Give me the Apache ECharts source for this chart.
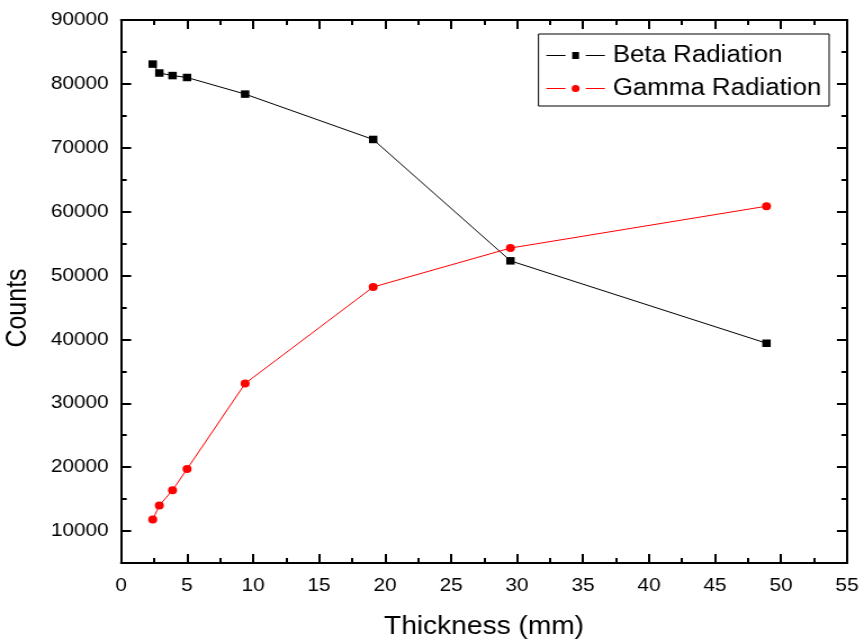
<!DOCTYPE html>
<html>
<head>
<meta charset="utf-8">
<script src="https://cdn.jsdelivr.net/npm/echarts@6/dist/echarts.min.js"></script>
<style>
  html, body { margin: 0; padding: 0; background: #fff; overflow: hidden; }
  #chart { width: 767px; height: 641px; transform: scaleX(1.125); transform-origin: 0 0; }
</style>
</head>
<body>
<div id="chart"></div>
<script>
// Data
const thickness = [2.4, 2.9, 3.9, 5.0, 9.4, 19.1, 29.5, 48.9];
const betaCounts = [83100, 81700, 81300, 81000, 78400, 71300, 52300, 39400];
const gammaCounts = [11800, 14000, 16400, 19700, 33100, 48200, 54300, 60850];
const seriesNames = ['Beta Radiation', 'Gamma Radiation'];
const xTicks = [0, 5, 10, 15, 20, 25, 30, 35, 40, 45, 50, 55];
const yMajorTicks = [10000, 20000, 30000, 40000, 50000, 60000, 70000, 80000, 90000];
const yMinorTicks = [15000, 25000, 35000, 45000, 55000, 65000, 75000, 85000];
const xTitle = 'Thickness (mm)';
const yTitle = 'Counts';

const FONT = 'Liberation Sans, Arial, sans-serif';
const chart = echarts.init(document.getElementById('chart'));

const lineBlack = { color: '#000', width: 2 };

// Legend icons in Origin style: line - symbol - line with small gaps
const ICON_SQUARE = 'path://M0,3L17,3L17,4L0,4Z M23,0L29,0L29,7L23,7Z M35,3L52,3L52,4L35,4Z';
const ICON_CIRCLE = 'path://M0,3L17,3L17,4L0,4Z M29.5,3.5A3.5,3.5,0,1,1,22.5,3.5A3.5,3.5,0,1,1,29.5,3.5Z M35,3L52,3L52,4L35,4Z';

function yAxisDef(position, ticks, len, showLabel, name) {
  return {
    type: 'value', position: position, offset: 0, min: 5000, max: 90000, interval: 5000,
    name: name || '', nameLocation: 'middle', nameGap: 79,
    nameTextStyle: { fontFamily: FONT, fontSize: 25, color: '#000', padding: [0, 33, 0, 0] },
    axisLine: { show: true, onZero: false, lineStyle: lineBlack },
    axisTick: { show: true, inside: true, length: len, lineStyle: { color: '#000', width: 2 }, customValues: ticks },
    axisLabel: { show: showLabel, customValues: ticks, formatter: v => String(v),
      fontFamily: FONT, fontSize: 18.5, color: '#000', margin: 11 },
    splitLine: { show: false }
  };
}

chart.setOption({
  animation: false,
  backgroundColor: '#fff',
  grid: { left: 107.6, right: 14.1, top: 20, bottom: 78, containLabel: false, outerBoundsMode: 'none' },
  legend: {
    data: [
      { name: seriesNames[0], icon: ICON_SQUARE },
      { name: seriesNames[1], icon: ICON_CIRCLE }
    ],
    orient: 'vertical', right: 30, top: 34,
    itemWidth: 52, itemHeight: 7, itemGap: 10,
    padding: [10, 7, 6, 7],
    borderColor: '#000', borderWidth: 1, backgroundColor: '#fff',
    textStyle: { fontFamily: FONT, fontSize: 23, color: '#000', padding: [0, 0, 0, 2] }
  },
  xAxis: [
    {
      type: 'value', position: 'bottom', offset: 0, min: xTicks[0], max: xTicks[xTicks.length - 1], interval: 5,
      name: xTitle, nameLocation: 'middle', nameGap: 52,
      nameTextStyle: { fontFamily: FONT, fontSize: 25, color: '#000' },
      axisLine: { show: true, onZero: false, lineStyle: lineBlack },
      axisTick: { show: true, inside: true, length: 9, lineStyle: { color: '#000', width: 2 } },
      minorTick: { show: true, splitNumber: 2, length: 5, lineStyle: { color: '#000', width: 2 } },
      axisLabel: { fontFamily: FONT, fontSize: 18.5, color: '#000', margin: 13 },
      splitLine: { show: false }
    },
    {
      type: 'value', position: 'top', offset: 0, min: xTicks[0], max: xTicks[xTicks.length - 1], interval: 5,
      axisLine: { show: true, onZero: false, lineStyle: lineBlack },
      axisTick: { show: true, inside: true, length: 9, lineStyle: { color: '#000', width: 2 } },
      minorTick: { show: true, splitNumber: 2, length: 5, lineStyle: { color: '#000', width: 2 } },
      axisLabel: { show: false },
      splitLine: { show: false }
    }
  ],
  yAxis: [
    yAxisDef('left', yMajorTicks, 9, true, yTitle),
    yAxisDef('left', yMinorTicks, 5, false),
    yAxisDef('right', yMajorTicks, 9, false),
    yAxisDef('right', yMinorTicks, 5, false)
  ],
  series: [
    {
      name: seriesNames[0], type: 'line', xAxisIndex: 0, yAxisIndex: 0,
      data: thickness.map((x, i) => [x, betaCounts[i]]),
      symbol: 'rect', symbolSize: 7.5,
      itemStyle: { color: '#000' },
      lineStyle: { color: '#000', width: 1 }
    },
    {
      name: seriesNames[1], type: 'line', xAxisIndex: 0, yAxisIndex: 0,
      data: thickness.map((x, i) => [x, gammaCounts[i]]),
      symbol: 'circle', symbolSize: 8,
      itemStyle: { color: '#ff0000' },
      lineStyle: { color: '#ff0000', width: 1 }
    }
  ]
});
</script>
</body>
</html>
